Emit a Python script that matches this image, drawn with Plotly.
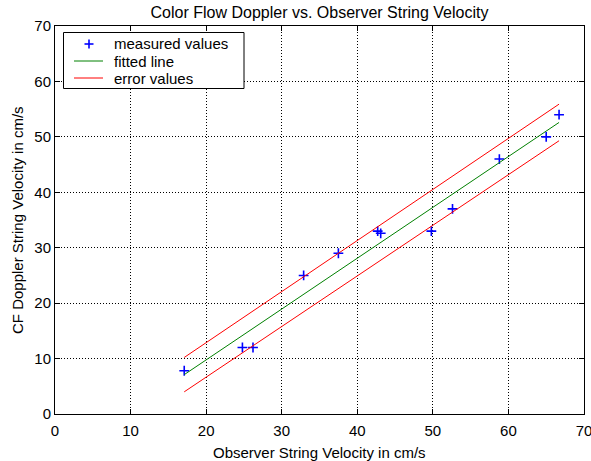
import plotly.graph_objects as go

meas_x = [17.1, 24.8, 26.2, 32.9, 37.5, 42.7, 43.1, 49.8, 52.6, 58.8, 65.0, 66.7]
meas_y = [7.8, 12.0, 12.0, 25.0, 29.0, 33.0, 32.6, 33.0, 37.0, 46.0, 50.0, 54.0]

# fitted line and error bands (read endpoints)
fit_x = [17.1, 66.7]
fit_y = [7.1, 52.6]
upper_y = [10.2, 55.9]
lower_y = [4.0, 49.3]

x_ticks = [0, 10, 20, 30, 40, 50, 60, 70]
y_ticks = [0, 10, 20, 30, 40, 50, 60, 70]

legend_labels = ["measured values", "fitted line", "error values"]
title_text = "Color Flow Doppler vs. Observer String Velocity"
x_title = "Observer String Velocity in cm/s"
y_title = "CF Doppler String Velocity in cm/s"

FONT = "Liberation Sans, Arial, sans-serif"
FS = 15
W, H = 591, 461
ML, MR, MT, MB = 55, 7, 26, 47
PW, PH = W - ML - MR, H - MT - MB

BLUE, GREEN, RED = "blue", "#008000", "red"


def px(xp):
    return (xp - ML) / PW


def py(yp):
    return (H - MB - yp) / PH


fig = go.Figure()
fig.add_trace(go.Scatter(
    x=meas_x, y=meas_y, mode="markers", name=legend_labels[0],
    marker=dict(symbol="cross-thin", size=7, color=BLUE,
                line=dict(color=BLUE, width=1.6)),
))
fig.add_trace(go.Scatter(
    x=fit_x, y=fit_y, mode="lines", name=legend_labels[1],
    line=dict(color=GREEN, width=1),
))
fig.add_trace(go.Scatter(
    x=fit_x, y=upper_y, mode="lines", name=legend_labels[2],
    line=dict(color=RED, width=1),
))
fig.add_trace(go.Scatter(
    x=fit_x, y=lower_y, mode="lines", name=legend_labels[2],
    line=dict(color=RED, width=1),
))

# legend drawn as a MATLAB-style box
shapes = [
    dict(type="rect", xref="paper", yref="paper",
         x0=px(63.5), x1=px(244), y0=py(88.5), y1=py(32.5),
         line=dict(color="black", width=1), fillcolor="white", layer="above"),
    # marker sample (+)
    dict(type="line", xref="paper", yref="paper",
         x0=px(84.5), x1=px(93.5), y0=py(44), y1=py(44),
         line=dict(color=BLUE, width=1.6), layer="above"),
    dict(type="line", xref="paper", yref="paper",
         x0=px(89), x1=px(89), y0=py(39.5), y1=py(48.5),
         line=dict(color=BLUE, width=1.6), layer="above"),
    # line samples
    dict(type="line", xref="paper", yref="paper",
         x0=px(74), x1=px(103), y0=py(61), y1=py(61),
         line=dict(color=GREEN, width=1), layer="above"),
    dict(type="line", xref="paper", yref="paper",
         x0=px(74), x1=px(103), y0=py(78), y1=py(78),
         line=dict(color=RED, width=1), layer="above"),
]
annotations = [
    dict(xref="paper", yref="paper", x=px(112), y=py(yy), text=t,
         xanchor="left", yanchor="middle", showarrow=False,
         font=dict(family=FONT, size=FS, color="black"))
    for t, yy in zip(legend_labels, [44, 61.5, 78.5])
]
# axis titles
annotations.append(dict(xref="paper", yref="paper", x=0.5, y=py(452), text=x_title,
                        xanchor="center", yanchor="middle", showarrow=False,
                        font=dict(family=FONT, size=FS, color="black")))
annotations.append(dict(xref="paper", yref="paper", x=px(17), y=0.5, text=y_title,
                        textangle=-90, xanchor="center", yanchor="middle", showarrow=False,
                        font=dict(family=FONT, size=FS, color="black")))

axis_common = dict(
    showgrid=True, gridcolor="black", griddash="1px,2px", gridwidth=1,
    showline=True, linecolor="black", linewidth=1, mirror="ticks",
    ticks="inside", ticklen=5, tickcolor="black",
    zeroline=False, ticklabeloverflow="allow", automargin=False,
    tickfont=dict(family=FONT, size=FS, color="black"),
)

fig.update_layout(
    width=W, height=H,
    margin=dict(l=ML, r=MR, t=MT, b=MB),
    paper_bgcolor="white", plot_bgcolor="white",
    title=dict(text=title_text,
               x=(ML + W - MR) / 2 / W, xanchor="center", y=1 - 12 / H, yanchor="middle",
               font=dict(family=FONT, size=16, color="black")),
    xaxis=dict(range=[0, 70], tickvals=x_ticks, ticklabelstandoff=3, **axis_common),
    yaxis=dict(range=[0, 70], tickvals=y_ticks, **axis_common),
    shapes=shapes,
    annotations=annotations,
    showlegend=False,
)

fig.write_html("out.html")
